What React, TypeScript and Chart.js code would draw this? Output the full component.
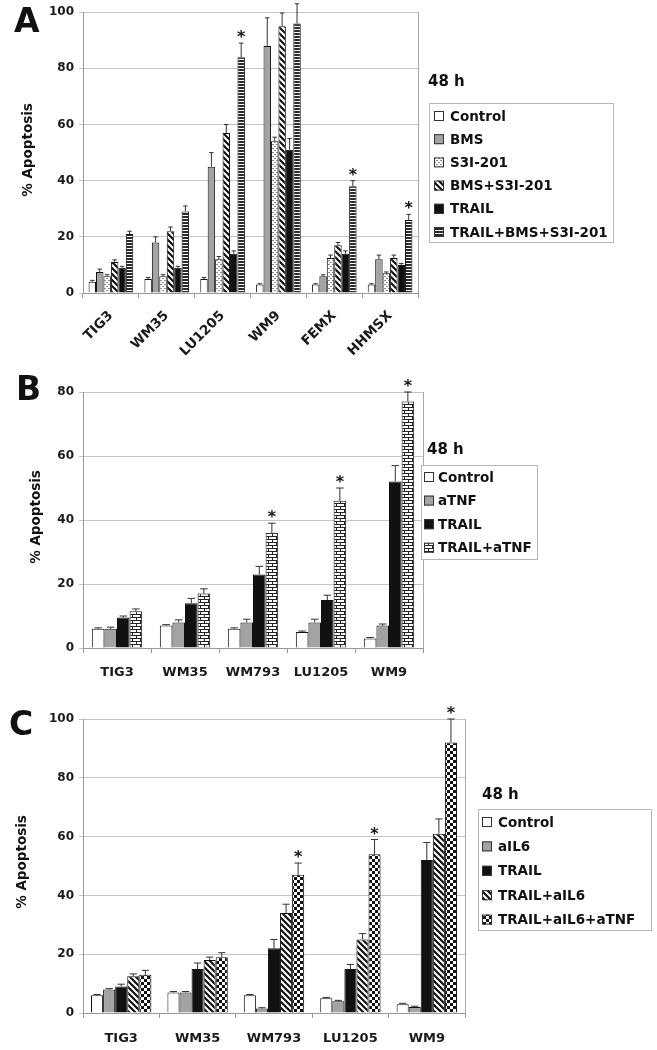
import React, { useEffect, useRef } from "react";
import { Chart, registerables } from "chart.js";
Chart.register(...registerables);

const FONT = "'DejaVu Sans', sans-serif";
const yTitle = "% Apoptosis";
const legendTitle = "48 h";

// ---------- Panel A ----------
const catsA = ["TIG3", "WM35", "LU1205", "WM9", "FEMX", "HHMSX"];
const namesA = ["Control", "BMS", "S3I-201", "BMS+S3I-201", "TRAIL", "TRAIL+BMS+S3I-201"];
const aControl = [4, 5, 5, 3, 3, 3];
const aBMS = [7.5, 18, 45, 88, 6, 12];
const aS3I = [6, 6, 12, 54, 12.5, 7];
const aBMS_S3I = [11, 22, 57, 95, 17, 12.5];
const aTRAIL = [9, 9, 14, 51, 14, 10];
const aAll = [21, 29, 84, 96, 38, 26];
const aControlErr = [0.5, 0.5, 0.5, 0.3, 0.3, 0.3];
const aBMSErr = [1, 2, 5, 10, 0.5, 1.5];
const aS3IErr = [0.5, 0.5, 1, 1.5, 1, 0.5];
const aBMS_S3IErr = [0.8, 1.5, 3, 4.7, 1, 1];
const aTRAILErr = [0.5, 0.5, 1, 4, 1, 0.5];
const aAllErr = [1, 2, 5, 7, 2, 2];
const aStars = [false, false, true, false, true, true];

// ---------- Panel B ----------
const catsB = ["TIG3", "WM35", "WM793", "LU1205", "WM9"];
const namesB = ["Control", "aTNF", "TRAIL", "TRAIL+aTNF"];
const bControl = [6, 7, 6, 5, 3];
const bTNF = [6, 8, 8, 8, 7];
const bTRAIL = [9.5, 14, 23, 15, 52];
const bTRAIL_TNF = [11.5, 17, 36, 46, 77];
const bControlErr = [0.3, 0.3, 0.3, 0.3, 0.3];
const bTNFErr = [0.5, 0.8, 1, 1, 0.5];
const bTRAILErr = [0.5, 1.5, 2.5, 1.5, 5];
const bTRAIL_TNFErr = [0.7, 1.5, 3, 4, 3];
const bStars = [false, false, true, true, true];

// ---------- Panel C ----------
const catsC = ["TIG3", "WM35", "WM793", "LU1205", "WM9"];
const namesC = ["Control", "aIL6", "TRAIL", "TRAIL+aIL6", "TRAIL+aIL6+aTNF"];
const cControl = [6, 7, 6, 5, 3];
const cIL6 = [8, 7, 1.5, 4, 2];
const cTRAIL = [9, 15, 22, 15, 52];
const cTRAIL_IL6 = [12.5, 18, 34, 25, 61];
const cAll = [13, 19, 47, 54, 92];
const cControlErr = [0.3, 0.3, 0.3, 0.3, 0.3];
const cIL6Err = [0.3, 0.3, 0.3, 0.3, 0.3];
const cTRAILErr = [0.8, 2, 3, 1.5, 6];
const cTRAIL_IL6Err = [0.8, 1, 3, 2, 5];
const cAllErr = [1.5, 1.5, 4, 5, 8];
const cStars = [false, false, true, true, true];

function pattern(kind: string): any {
  if (kind === "white") return "#ffffff";
  if (kind === "gray") return "#a3a3a3";
  if (kind === "black") return "#111111";
  const c = document.createElement("canvas");
  const g = c.getContext("2d")!;
  if (kind === "hstripe") {
    c.width = 3; c.height = 3;
    g.fillStyle = "#fff"; g.fillRect(0, 0, 3, 3);
    g.fillStyle = "#2a2a2a"; g.fillRect(0, 0, 3, 2);
  } else if (kind === "diag") {
    c.width = 6; c.height = 6;
    g.fillStyle = "#fff"; g.fillRect(0, 0, 6, 6);
    g.strokeStyle = "#111"; g.lineWidth = 2.2;
    g.beginPath();
    g.moveTo(-1, -1); g.lineTo(7, 7);
    g.moveTo(-4, 2); g.lineTo(4, 10);
    g.moveTo(2, -4); g.lineTo(10, 4);
    g.stroke();
  } else if (kind === "dots") {
    c.width = 4; c.height = 4;
    g.fillStyle = "#fff"; g.fillRect(0, 0, 4, 4);
    g.fillStyle = "#8a8a8a"; g.fillRect(0, 0, 2, 1); g.fillRect(2, 2, 2, 1);
  } else if (kind === "brick") {
    c.width = 8; c.height = 6;
    g.fillStyle = "#222"; g.fillRect(0, 0, 8, 6);
    g.fillStyle = "#fff";
    g.fillRect(1, 1, 7, 2);
    g.fillRect(0, 4, 4, 2); g.fillRect(5, 4, 3, 2);
  } else if (kind === "checker") {
    c.width = 6; c.height = 6;
    g.fillStyle = "#fff"; g.fillRect(0, 0, 6, 6);
    g.fillStyle = "#111"; g.fillRect(0, 0, 3, 3); g.fillRect(3, 3, 3, 3);
  }
  return g.createPattern(c, "repeat");
}

type Legend = { x: number; y: number; w: number; h: number; titleX: number; titleY: number; row0: number; step: number; swX: number; textX: number };
type PanelCfg = {
  top: number; height: number; plotTop: number; plotBottom: number; plotRight: number;
  cats: string[]; names: string[]; values: number[][]; errors: number[][]; fills: string[];
  stars: boolean[]; yMax: number; catPct: number; rotate: boolean; tickPad: number; xFont: number;
  letter: string; letterX: number; letterY: number; titleX: number; titleY: number; legend: Legend;
};

const panels: PanelCfg[] = [
  {
    top: 0, height: 365, plotTop: 9, plotBottom: 293, plotRight: 418,
    cats: catsA, names: namesA,
    values: [aControl, aBMS, aS3I, aBMS_S3I, aTRAIL, aAll],
    errors: [aControlErr, aBMSErr, aS3IErr, aBMS_S3IErr, aTRAILErr, aAllErr],
    fills: ["white", "gray", "dots", "diag", "black", "hstripe"],
    stars: aStars, yMax: 100, catPct: 0.8, rotate: true, tickPad: 10, xFont: 13.5,
    letter: "A", letterX: 14, letterY: 21, titleX: 28, titleY: 150,
    legend: { x: 429, y: 103, w: 184, h: 139, titleX: 428, titleY: 82, row0: 116, step: 23.2, swX: 434, textX: 450 },
  },
  {
    top: 365, height: 320, plotTop: 392, plotBottom: 648, plotRight: 423,
    cats: catsB, names: namesB,
    values: [bControl, bTNF, bTRAIL, bTRAIL_TNF],
    errors: [bControlErr, bTNFErr, bTRAILErr, bTRAIL_TNFErr],
    fills: ["white", "gray", "black", "brick"],
    stars: bStars, yMax: 80, catPct: 0.74, rotate: false, tickPad: 12, xFont: 13,
    letter: "B", letterX: 16, letterY: 389, titleX: 36, titleY: 517,
    legend: { x: 421, y: 465, w: 116, h: 94, titleX: 427, titleY: 450, row0: 477, step: 23.6, swX: 424, textX: 438 },
  },
  {
    top: 685, height: 365, plotTop: 719, plotBottom: 1013, plotRight: 465,
    cats: catsC, names: namesC,
    values: [cControl, cIL6, cTRAIL, cTRAIL_IL6, cAll],
    errors: [cControlErr, cIL6Err, cTRAILErr, cTRAIL_IL6Err, cAllErr],
    fills: ["white", "gray", "black", "diag", "checker"],
    stars: cStars, yMax: 100, catPct: 0.79, rotate: false, tickPad: 13, xFont: 13,
    letter: "C", letterX: 9, letterY: 724, titleX: 22, titleY: 862,
    legend: { x: 478, y: 809, w: 173, h: 121, titleX: 482, titleY: 795, row0: 822, step: 24.4, swX: 482, textX: 498 },
  },
];

function decor(cfg: PanelCfg, fills: any[]) {
  return {
    id: "decor" + cfg.letter,
    afterDatasetsDraw(chart: any) {
      const ctx = chart.ctx;
      const a = chart.chartArea;
      const ys = chart.scales.y;
      ctx.save();
      ctx.strokeStyle = "#aaa";
      ctx.lineWidth = 1;
      ctx.beginPath();
      ctx.moveTo(Math.round(a.right) + 0.5, a.top);
      ctx.lineTo(Math.round(a.right) + 0.5, a.bottom);
      ctx.stroke();
      cfg.names.forEach((_, i) => {
        const meta = chart.getDatasetMeta(i);
        meta.data.forEach((bar: any, j: number) => {
          const v = cfg.values[i][j];
          const e = cfg.errors[i][j];
          const yt = ys.getPixelForValue(v + e);
          const yb = ys.getPixelForValue(v);
          const cap = Math.max(2, bar.width * 0.3);
          ctx.strokeStyle = "#333";
          ctx.lineWidth = 1;
          ctx.beginPath();
          ctx.moveTo(bar.x, yb);
          ctx.lineTo(bar.x, yt);
          ctx.moveTo(bar.x - cap, yt);
          ctx.lineTo(bar.x + cap, yt);
          ctx.stroke();
          if (i === cfg.names.length - 1 && cfg.stars[j]) {
            ctx.fillStyle = "#111";
            ctx.font = `bold 16px ${FONT}`;
            ctx.textAlign = "center";
            ctx.textBaseline = "alphabetic";
            ctx.fillText("*", bar.x, yt - 1);
          }
        });
      });
      ctx.restore();
    },
    afterDraw(chart: any) {
      const ctx = chart.ctx;
      const off = cfg.top;
      const L = cfg.legend;
      ctx.save();
      ctx.fillStyle = "#fff";
      ctx.fillRect(L.x, L.y - off, L.w, L.h);
      ctx.strokeStyle = "#b5b5b5";
      ctx.lineWidth = 1;
      ctx.strokeRect(L.x + 0.5, L.y - off + 0.5, L.w, L.h);
      ctx.fillStyle = "#111";
      ctx.textBaseline = "middle";
      ctx.textAlign = "left";
      ctx.font = `bold 15px ${FONT}`;
      ctx.fillText(legendTitle, L.titleX, L.titleY - off);
      ctx.font = `bold 13.5px ${FONT}`;
      cfg.names.forEach((n, i) => {
        const yy = L.row0 + i * L.step - off;
        ctx.fillStyle = fills[i];
        ctx.fillRect(L.swX, yy - 5, 10, 10);
        ctx.strokeStyle = "#333";
        ctx.strokeRect(L.swX + 0.5, yy - 4.5, 9, 9);
        ctx.fillStyle = "#111";
        ctx.fillText(n, L.textX, yy + 1);
      });
      ctx.save();
      ctx.translate(cfg.titleX, cfg.titleY - off);
      ctx.rotate(-Math.PI / 2);
      ctx.textAlign = "center";
      ctx.font = `bold 13.5px ${FONT}`;
      ctx.fillText(yTitle, 0, 0);
      ctx.restore();
      ctx.font = `bold 33px ${FONT}`;
      ctx.textAlign = "left";
      ctx.fillText(cfg.letter, cfg.letterX, cfg.letterY - off + 2);
      ctx.restore();
    },
  };
}

function Panel({ cfg }: { cfg: PanelCfg }) {
  const ref = useRef<HTMLCanvasElement>(null);
  useEffect(() => {
    const fills = cfg.fills.map(pattern);
    const chart = new Chart(ref.current!, {
      type: "bar",
      data: {
        labels: cfg.cats,
        datasets: cfg.names.map((n, i) => ({
          label: n,
          data: cfg.values[i],
          backgroundColor: fills[i],
          borderColor: "#111",
          borderWidth: 1,
          categoryPercentage: cfg.catPct,
          barPercentage: 1,
        })),
      },
      options: {
        responsive: false,
        animation: false,
        devicePixelRatio: 1,
        layout: { padding: { left: 0, right: 657 - cfg.plotRight, top: cfg.plotTop - cfg.top, bottom: 0 } },
        plugins: { legend: { display: false }, tooltip: { enabled: false } },
        scales: {
          x: {
            grid: { display: true, drawOnChartArea: false, drawTicks: true, tickLength: 5, color: "#999", offset: true },
            border: { color: "#999" },
            ticks: {
              font: { family: FONT, weight: "bold", size: cfg.xFont },
              color: "#1a1a1a",
              maxRotation: cfg.rotate ? 45 : 0,
              minRotation: cfg.rotate ? 45 : 0,
              autoSkip: false,
              padding: cfg.tickPad,
            },
            afterFit: (s: any) => { s.height = cfg.height - (cfg.plotBottom - cfg.top); },
          },
          y: {
            min: 0,
            max: cfg.yMax,
            ticks: { stepSize: 20, font: { family: FONT, weight: "bold", size: 12 }, color: "#1a1a1a", padding: 5 },
            grid: { color: "#c4c4c4", tickLength: 4 },
            border: { color: "#999" },
            afterFit: (s: any) => { s.width = 83; },
          },
        },
      } as any,
      plugins: [decor(cfg, fills)],
    });
    return () => chart.destroy();
  }, []);
  return (
    <canvas
      ref={ref}
      width={657}
      height={cfg.height}
      style={{ position: "absolute", left: 0, top: cfg.top, width: 657, height: cfg.height }}
    />
  );
}

export default function App() {
  return (
    <div style={{ position: "absolute", left: 0, top: 0, width: 657, height: 1050, background: "#fff", overflow: "hidden" }}>
      {panels.map((p) => (
        <Panel key={p.letter} cfg={p} />
      ))}
    </div>
  );
}
